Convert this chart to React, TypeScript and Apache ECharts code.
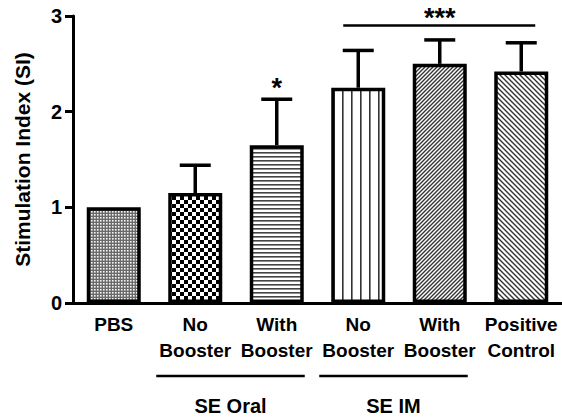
import React, { useEffect, useRef } from "react";
import * as echarts from "echarts";

const categories = ["PBS", "No\nBooster", "With\nBooster", "No\nBooster", "With\nBooster", "Positive\nControl"];
const means = [1.0, 1.15, 1.65, 2.25, 2.5, 2.42];
const errors = [0, 0.29, 0.48, 0.39, 0.25, 0.3];
const patternKinds = ["fineCheck", "check", "hlines", "vlines", "diagUp", "diagDown"];
const groupNames = ["SE Oral", "SE IM"];
const groupStart = [1, 3];
const groupEnd = [2, 4];
const starLabels = ["*"];
const starCategory = [2];
const bracketLabels = ["***"];
const bracketStart = [3];
const bracketEnd = [5];
const bracketLevel = [2.9];
const yName = "Stimulation Index (SI)";

const FONT = "'Liberation Sans', Arial, sans-serif";

function makePattern(kind: string) {
  const c = document.createElement("canvas");
  let w = 4, h = 4;
  if (kind === "fineCheck") { w = 3; h = 3; }
  if (kind === "check") { w = 8; h = 8; }
  if (kind === "vlines") { w = 9; h = 4; }
  if (kind === "diagDown") { w = 5; h = 5; }
  c.width = w; c.height = h;
  const ctx = c.getContext("2d") as CanvasRenderingContext2D;
  ctx.fillStyle = "#fff";
  ctx.fillRect(0, 0, w, h);
  if (kind === "fineCheck") {
    ctx.fillStyle = "#6a6a6a";
    ctx.fillRect(0, 0, 3, 3);
    ctx.fillStyle = "#f4f4f4";
    ctx.fillRect(1, 1, 1.6, 1.6);
  } else if (kind === "check") {
    ctx.fillStyle = "#000";
    ctx.fillRect(0, 0, 4, 4);
    ctx.fillRect(4, 4, 4, 4);
  } else if (kind === "hlines") {
    ctx.fillStyle = "#444";
    ctx.fillRect(0, 0, w, 1.6);
  } else if (kind === "vlines") {
    ctx.fillStyle = "#333";
    ctx.fillRect(0, 0, 1.6, h);
  } else if (kind === "diagUp" || kind === "diagDown") {
    ctx.strokeStyle = "#333";
    ctx.lineWidth = 1.4;
    ctx.beginPath();
    if (kind === "diagUp") {
      for (let k = -1; k <= 1; k++) {
        ctx.moveTo(-1 + k * w, h + 1);
        ctx.lineTo(w + 1 + k * w, -1);
      }
    } else {
      for (let k = -1; k <= 1; k++) {
        ctx.moveTo(-1 + k * w, -1);
        ctx.lineTo(w + 1 + k * w, h + 1);
      }
    }
    ctx.stroke();
  }
  return { image: c, repeat: "repeat" };
}

export default function App() {
  const ref = useRef<HTMLDivElement>(null);
  useEffect(() => {
    if (!ref.current) return;
    const chart = echarts.init(ref.current, undefined, { renderer: "svg" });
    const barData = means.map((v, i) => ({
      value: v,
      itemStyle: { color: makePattern(patternKinds[i]) as any },
    }));
    const errData = means.map((m, i) => [i, m, errors[i]]);
    const starData = starCategory.map((c, i) => [c, means[c] + errors[c], i]);
    const bracketData = bracketStart.map((s, i) => [s, bracketEnd[i], bracketLevel[i], i]);
    const groupData = groupStart.map((s, i) => [s, groupEnd[i], i]);

    chart.setOption({
      animation: false,
      textStyle: { fontFamily: FONT },
      grid: { left: 73, right: 0, top: 16, bottom: 114, containLabel: false },
      xAxis: {
        type: "category",
        data: categories,
        axisLine: { lineStyle: { color: "#000", width: 3 } },
        axisTick: { alignWithLabel: true, length: 7, lineStyle: { color: "#000", width: 3 } },
        axisLabel: {
          interval: 0,
          color: "#000",
          fontSize: 19,
          fontWeight: "bold",
          fontFamily: FONT,
          lineHeight: 26,
          margin: 8,
        },
      },
      yAxis: {
        type: "value",
        min: 0,
        max: 3,
        interval: 1,
        name: yName,
        nameLocation: "middle",
        nameGap: 40,
        nameTextStyle: { color: "#000", fontSize: 21, fontWeight: "bold", fontFamily: FONT },
        axisLine: { show: true, lineStyle: { color: "#000", width: 3 } },
        axisTick: { show: true, length: 8, lineStyle: { color: "#000", width: 3 } },
        splitLine: { show: false },
        axisLabel: { color: "#000", fontSize: 20, fontWeight: "bold", fontFamily: FONT, margin: 11 },
      },
      series: [
        {
          type: "bar",
          data: barData,
          barWidth: 54,
          itemStyle: { borderColor: "#000", borderWidth: 3.5 },
          z: 2,
        },
        {
          type: "custom",
          data: errData,
          z: 3,
          renderItem: (params: any, api: any) => {
            const i = api.value(0);
            const m = api.value(1);
            const e = api.value(2);
            if (!e) return null;
            const base = api.coord([i, m]);
            const top = api.coord([i, m + e]);
            const half = 15.5;
            return {
              type: "group",
              children: [
                { type: "line", shape: { x1: base[0], y1: base[1], x2: top[0], y2: top[1] }, style: { stroke: "#000", lineWidth: 3.5 } },
                { type: "line", shape: { x1: top[0] - half, y1: top[1], x2: top[0] + half, y2: top[1] }, style: { stroke: "#000", lineWidth: 3.5 } },
              ],
            };
          },
        },
        {
          type: "custom",
          data: starData,
          z: 3,
          renderItem: (params: any, api: any) => {
            const p = api.coord([api.value(0), api.value(1)]);
            return {
              type: "text",
              x: p[0],
              y: p[1] - 11,
              style: {
                text: starLabels[api.value(2)],
                fill: "#000",
                font: `bold 27px ${FONT}`,
                align: "center",
                verticalAlign: "middle",
              },
            };
          },
        },
        {
          type: "custom",
          data: bracketData,
          z: 3,
          renderItem: (params: any, api: any) => {
            const a = api.coord([api.value(0), api.value(2)]);
            const b = api.coord([api.value(1), api.value(2)]);
            const mid = api.coord([(api.value(0) + api.value(1)) / 2, api.value(2)]);
            return {
              type: "group",
              children: [
                { type: "line", shape: { x1: a[0] - 15, y1: a[1], x2: b[0] + 14, y2: b[1] }, style: { stroke: "#000", lineWidth: 2.5 } },
                {
                  type: "text",
                  x: mid[0],
                  y: mid[1] - 8,
                  style: {
                    text: bracketLabels[api.value(3)],
                    fill: "#000",
                    font: `bold 27px ${FONT}`,
                    align: "center",
                    verticalAlign: "middle",
                  },
                },
              ],
            };
          },
        },
        {
          type: "custom",
          data: groupData,
          z: 3,
          clip: false,
          renderItem: (params: any, api: any) => {
            const a = api.coord([api.value(0), 0]);
            const b = api.coord([api.value(1), 0]);
            const x1 = a[0] - 39;
            const x2 = b[0] + 28;
            return {
              type: "group",
              children: [
                { type: "line", shape: { x1, y1: a[1] + 73, x2, y2: a[1] + 73 }, style: { stroke: "#000", lineWidth: 2.5 } },
                {
                  type: "text",
                  x: (x1 + x2) / 2,
                  y: a[1] + 103,
                  style: {
                    text: groupNames[api.value(2)],
                    fill: "#000",
                    font: `bold 20px ${FONT}`,
                    align: "center",
                    verticalAlign: "middle",
                  },
                },
              ],
            };
          },
        },
      ],
    });
    return () => chart.dispose();
  }, []);
  return (
    <div
      ref={ref}
      style={{ position: "absolute", left: 0, top: 0, width: 562, height: 417, background: "#fff" }}
    />
  );
}
